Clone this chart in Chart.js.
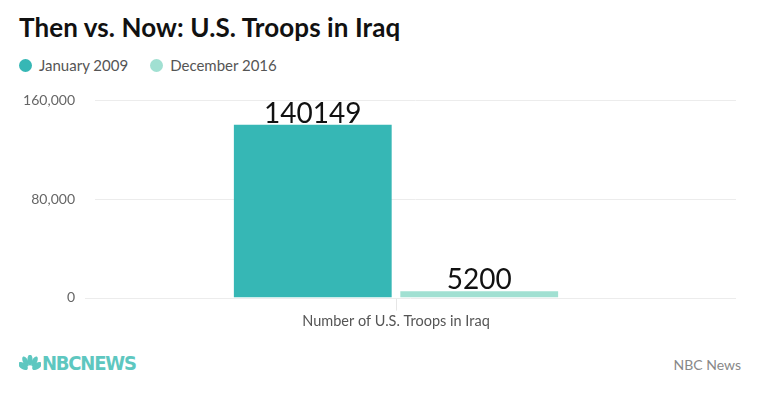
<!DOCTYPE html>
<html>
<head>
<meta charset="utf-8">
<script src="https://cdn.jsdelivr.net/npm/chart.js@4"></script>
<style>
  body { margin: 0; width: 760px; height: 399px; background: #fff; font-family: Lato, "Open Sans", sans-serif; position: relative; overflow: hidden; }
  #title { position: absolute; left: 19px; top: 11px; font-size: 26px; font-weight: bold; color: #111; letter-spacing: 0.1px; }
  #legend { position: absolute; left: 19px; top: 56px; font-size: 15px; color: #555; }
  #legend span { display: inline-block; margin-right: 22px; }
  #legend i { display: inline-block; width: 13px; height: 13px; border-radius: 50%; vertical-align: -1px; margin-right: 7px; }
  #wrap { position: absolute; left: 0; top: 80px; width: 760px; height: 260px; }
  #logo { position: absolute; left: 19px; top: 351px; font-size: 20px; font-weight: bold; color: #5ec7c0; letter-spacing: -1.2px; font-family: "Liberation Sans Narrow", "DejaVu Sans Condensed", sans-serif; }
  #logo svg { vertical-align: -2px; margin-right: 1px; }
  #source { position: absolute; right: 19px; top: 356px; font-size: 14px; color: #888; }
</style>
</head>
<body>
<div id="title">Then vs. Now: U.S. Troops in Iraq</div>
<div id="legend"></div>
<div id="wrap"><canvas id="chart"></canvas></div>
<div id="logo"><svg width="22" height="17" viewBox="0 0 22 17"><g fill="#5ec7c0">
  <ellipse cx="4" cy="11" rx="3" ry="5.5" transform="rotate(-55 4 11)"/>
  <ellipse cx="6.5" cy="6.5" rx="2.6" ry="5.5" transform="rotate(-25 6.5 6.5)"/>
  <ellipse cx="11" cy="5" rx="2.6" ry="5.5"/>
  <ellipse cx="15.5" cy="6.5" rx="2.6" ry="5.5" transform="rotate(25 15.5 6.5)"/>
  <ellipse cx="18" cy="11" rx="3" ry="5.5" transform="rotate(55 18 11)"/>
</g></svg>NBCNEWS</div>
<div id="source">NBC News</div>
<script>
// data
const categories = ['Number of U.S. Troops in Iraq'];
const seriesNames = ['January 2009', 'December 2016'];
const jan2009 = [140149];
const dec2016 = [5200];
const yTicks = [0, 80000, 160000];
const colors = ['#36b7b5', '#a1e0d2'];

// legend in html
document.getElementById('legend').innerHTML = seriesNames.map((n, i) =>
  `<span><i style="background:${colors[i]}"></i>${n}</span>`).join('');

// horizontal gridlines run wider than the plot (plot is centred on the category)
const wideGrid = {
  id: 'wideGrid',
  beforeDatasetsDraw(chart) {
    const ctx = chart.ctx, y = chart.scales.y;
    const right = chart.width - 24;
    ctx.save();
    ctx.strokeStyle = '#ececec';
    ctx.lineWidth = 1;
    yTicks.forEach(v => {
      const py = Math.round(y.getPixelForValue(v)) + 0.5;
      const left = v === 0 ? chart.chartArea.left - 10 : chart.chartArea.left;
      ctx.beginPath();
      ctx.moveTo(left, py);
      ctx.lineTo(right, py);
      ctx.stroke();
    });
    ctx.restore();
  }
};

// values above bars
const valueLabels = {
  id: 'valueLabels',
  afterDatasetsDraw(chart) {
    const ctx = chart.ctx;
    ctx.save();
    ctx.font = '28px Lato, "Open Sans", sans-serif';
    ctx.fillStyle = '#111';
    ctx.textAlign = 'center';
    ctx.textBaseline = 'bottom';
    chart.data.datasets.forEach((ds, di) => {
      chart.getDatasetMeta(di).data.forEach((bar, i) => {
        ctx.fillText(String(ds.data[i]), bar.x, bar.y + 3);
      });
    });
    ctx.restore();
  }
};

new Chart(document.getElementById('chart'), {
  type: 'bar',
  data: {
    labels: categories,
    datasets: [
      { label: seriesNames[0], data: jan2009, backgroundColor: colors[0] },
      { label: seriesNames[1], data: dec2016, backgroundColor: colors[1] }
    ]
  },
  options: {
    responsive: true,
    maintainAspectRatio: false,
    animation: false,
    categoryPercentage: 0.553,
    barPercentage: 0.948,
    layout: { padding: { top: 17, right: 63, left: 0, bottom: 8 } },
    plugins: { legend: { display: false }, tooltip: { enabled: false } },
    scales: {
      x: {
        grid: { offset: false, drawOnChartArea: false, drawTicks: true, tickLength: 13, color: '#e6e6e6' },
        border: { display: false },
        ticks: { color: '#555', font: { size: 14.5, family: 'Lato, "Open Sans", sans-serif' }, padding: 2 }
      },
      y: {
        min: 0, max: 160000,
        afterBuildTicks(axis) { axis.ticks = yTicks.map(v => ({ value: v })); },
        afterFit(axis) { axis.width = 95; },
        grid: { display: false },
        border: { display: false },
        ticks: {
          color: '#666', padding: 12,
          font: { size: 14, family: 'Lato, "Open Sans", sans-serif' },
          callback: v => v.toLocaleString('en-US')
        }
      }
    }
  },
  plugins: [wideGrid, valueLabels]
});
</script>
</body>
</html>
